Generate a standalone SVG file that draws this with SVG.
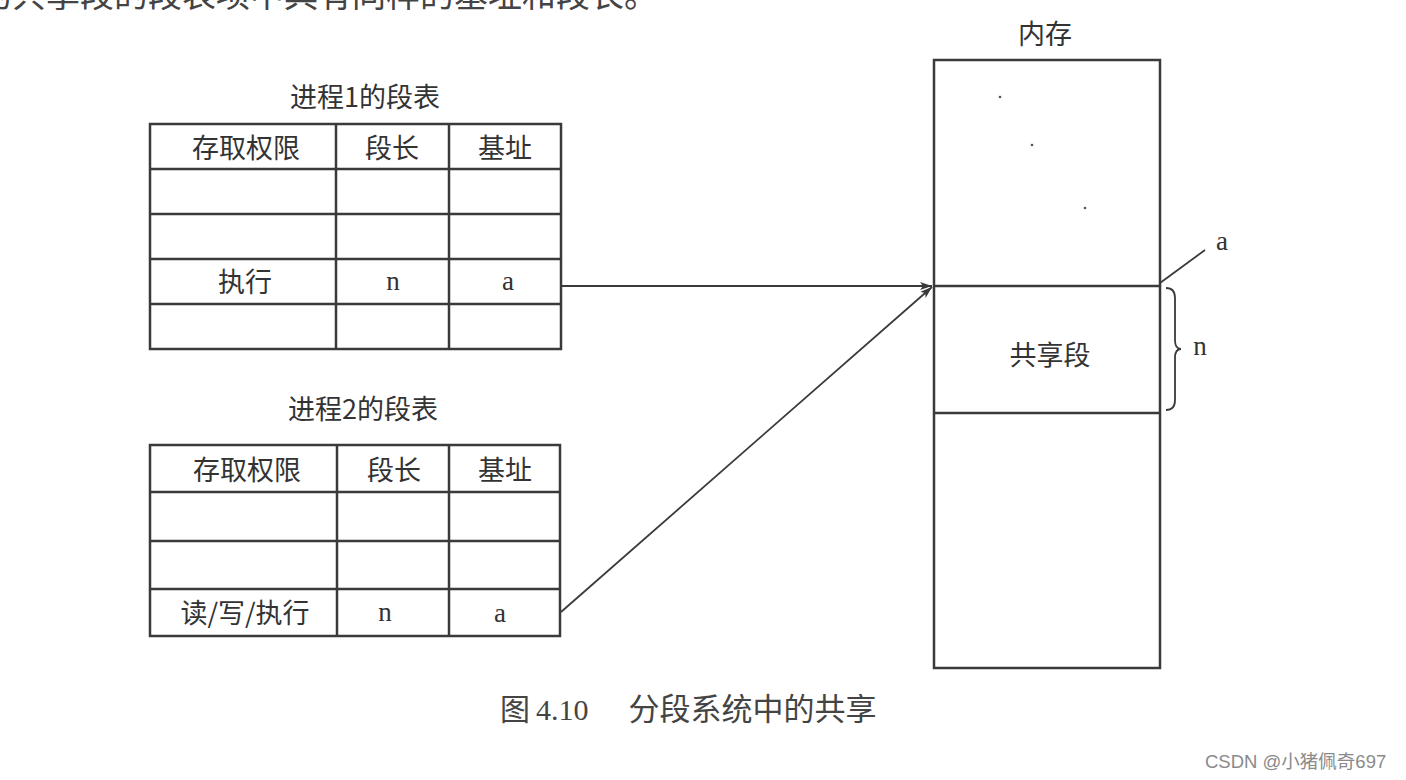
<svg xmlns="http://www.w3.org/2000/svg" width="1406" height="780" viewBox="0 0 1406 780">
<style>
.bg{fill:#ffffff}
.ln{stroke:#3a3a3a;stroke-width:2.5;fill:none}
.thin{stroke:#3a3a3a;stroke-width:1.8;fill:none}
.cj{font-family:"Noto Sans CJK SC","Liberation Serif",serif;fill:#333;font-size:27px;text-anchor:middle}
.lat{font-family:"Liberation Serif","Noto Sans CJK SC",serif;fill:#333;font-size:27px;text-anchor:middle}
.wm{font-family:"Liberation Sans","Noto Sans CJK SC",sans-serif;fill:#8a8a8a;font-size:18.5px}
</style>
<defs>
<marker id="ah" viewBox="0 0 12 8" refX="12" refY="4" markerWidth="12" markerHeight="8" markerUnits="userSpaceOnUse" orient="auto">
<path d="M0,0 L12,4 L0,8 L3,4 Z" fill="#3a3a3a"/>
</marker>
</defs>
<rect class="bg" x="0" y="0" width="1406" height="780"/>

<g id="top-text">
<text x="-22" y="7" font-family="Noto Sans CJK SC, serif" font-size="34" fill="#444">的共享段的段表项中具有同样的基址和段长。</text>
</g>

<g id="table1">
<text class="cj" x="365" y="107">进程1的段表</text>
<rect class="ln" x="150" y="124" width="411" height="225"/>
<line class="ln" x1="336" y1="124" x2="336" y2="349"/>
<line class="ln" x1="449" y1="124" x2="449" y2="349"/>
<line class="ln" x1="150" y1="169" x2="561" y2="169"/>
<line class="ln" x1="150" y1="214" x2="561" y2="214"/>
<line class="ln" x1="150" y1="259" x2="561" y2="259"/>
<line class="ln" x1="150" y1="304" x2="561" y2="304"/>
<text class="cj" x="246" y="158">存取权限</text>
<text class="cj" x="392" y="158">段长</text>
<text class="cj" x="505" y="158">基址</text>
<text class="cj" x="245" y="292">执行</text>
<text class="lat" x="393" y="290">n</text>
<text class="lat" x="508" y="290">a</text>
</g>

<g id="table2">
<text class="cj" x="363" y="419">进程2的段表</text>
<rect class="ln" x="150" y="445" width="410" height="191"/>
<line class="ln" x1="337" y1="445" x2="337" y2="636"/>
<line class="ln" x1="449" y1="445" x2="449" y2="636"/>
<line class="ln" x1="150" y1="492" x2="560" y2="492"/>
<line class="ln" x1="150" y1="541" x2="560" y2="541"/>
<line class="ln" x1="150" y1="589" x2="560" y2="589"/>
<text class="cj" x="247" y="480">存取权限</text>
<text class="cj" x="394" y="480">段长</text>
<text class="cj" x="505" y="480">基址</text>
<text class="cj" x="245" y="623">读/写/执行</text>
<text class="lat" x="385" y="621">n</text>
<text class="lat" x="500" y="622">a</text>
</g>

<g id="memory">
<text class="cj" x="1045" y="44">内存</text>
<rect class="ln" x="934" y="60" width="226" height="608"/>
<line class="ln" x1="934" y1="286" x2="1160" y2="286"/>
<line class="ln" x1="934" y1="413" x2="1160" y2="413"/>
<circle cx="1000" cy="97" r="1.3" fill="#555"/>
<circle cx="1032" cy="145" r="1.3" fill="#555"/>
<circle cx="1085" cy="208" r="1.3" fill="#555"/>
<text class="cj" x="1050" y="365">共享段</text>
</g>

<g id="labels">
<line class="thin" x1="1160" y1="283" x2="1205" y2="250"/>
<text class="lat" x="1222" y="250">a</text>
<path class="thin" d="M1166,288 Q1175,288 1175,298 L1175,340 Q1175,349 1181,349 Q1175,349 1175,358 L1175,400 Q1175,410 1166,410"/>
<text class="lat" x="1200" y="355">n</text>
</g>

<g id="connectors">
<line class="thin" x1="562" y1="286" x2="932" y2="286" marker-end="url(#ah)"/>
<line class="thin" x1="561" y1="612" x2="932" y2="287" marker-end="url(#ah)"/>
</g>

<g id="caption">
<text x="500" y="720" font-family="Noto Sans CJK SC, serif" font-size="30" fill="#444"><tspan>图</tspan><tspan dx="6" font-family="Liberation Serif, serif">4.10</tspan><tspan dx="40" font-size="31">分段系统中的共享</tspan></text>
</g>

<g id="watermark">
<text class="wm" x="1205" y="768">CSDN @小猪佩奇697</text>
</g>
</svg>
